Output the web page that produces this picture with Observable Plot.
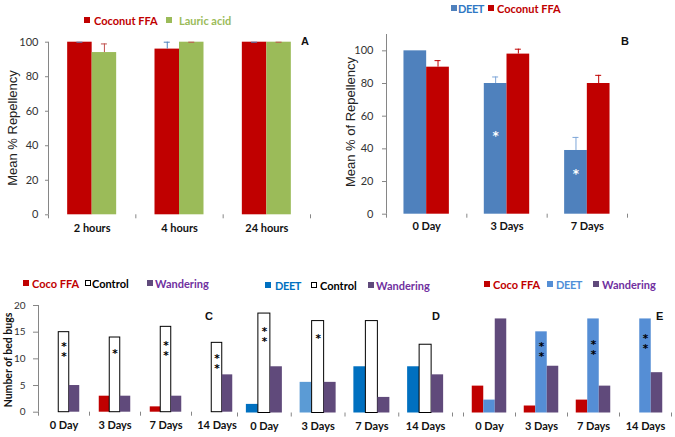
<!DOCTYPE html>
<html><head><meta charset="utf-8">
<script src="https://cdn.jsdelivr.net/npm/d3@7"></script>
<script src="https://cdn.jsdelivr.net/npm/@observablehq/plot@0.6"></script>
<style>
body{margin:0;background:#fff;}
#root{position:relative;width:675px;height:437px;overflow:hidden;background:#fff;font-family:Lato,sans-serif;}
.panel{position:absolute;}
.panel svg{background:transparent;}
.t{position:absolute;white-space:nowrap;transform:translateY(-50%);line-height:1;}
.sq{position:absolute;width:6px;height:6px;transform:translateY(-50%);box-sizing:border-box;}
.yt{position:absolute;white-space:nowrap;line-height:1;transform:translate(-50%,-50%) rotate(-90deg);}
</style></head><body><div id="root"></div>
<script>
// ---------- Panel A ----------
const hoursA = ["2 hours", "4 hours", "24 hours"];
const coconutA = [100, 96, 100];
const coconutAErr = [0, 4, 0];
const lauricA = [94, 100, 100];
const lauricAErr = [5, 0, 0];
const ticksA = [0, 20, 40, 60, 80, 100];

// ---------- Panel B ----------
const daysB = ["0 Day", "3 Days", "7 Days"];
const deetB = [100, 80, 39];
const deetBErr = [null, 4, 8];
const coconutB = [90, 98, 80];
const coconutBErr = [4, 3, 5];
const ticksB = [0, 20, 40, 60, 80, 100];
const starsB = ["", "*", "*"];
const starsBY = [null, 50, 27];

// ---------- Panels C, D, E ----------
const days = ["0 Day", "3 Days", "7 Days", "14 Days"];
const ticksC = [0, 5, 10, 15, 20];

const cocoC = [0, 3, 1, 0];
const controlC = [15, 14, 16, 13];
const wanderC = [5, 3, 3, 7];
const starsC = ["*\n*", "*", "*\n*", "*\n*"];
const starsCY = [12, 11.6, 12.2, 9.8];

const deetD = [1.6, 5.7, 8.6, 8.6];
const controlD = [18.5, 17.1, 17.1, 12.7];
const wanderD = [8.6, 5.7, 2.9, 7.1];
const starsD = ["*\n*", "*", "", ""];
const starsDY = [14.8, 14.4, null, null];

const cocoE = [5.0, 1.3, 2.4, 0];
const deetE = [2.4, 15.1, 17.5, 17.5];
const wanderE = [17.5, 8.7, 5.0, 7.5];
const starsE = ["", "*\n*", "*\n*", "*\n*"];
const starsEY = [null, 12, 12.4, 13.6];

// ---------- colours ----------
const RED = "#C00000", GREEN = "#9BBB59", BLUE = "#4F81BD", PURPLE = "#604A7B",
      DBLUE = "#0070C0", LBLUE = "#5B9BD5", EBLUE = "#558ED5", AX = "#868686";

const root = document.getElementById("root");

function panelPlot(cfg) {
  const {groups, series, width, height, ml, mr, mt, mb, yDomain, yTicks, barW,
         stars, yAxis = true, xPad = 9, yTickSize = 4, yTickPad = 6, yFont = 11,
         baseInsetRight = 0, lastTick = true} = cfg;
  const n = series.length;
  const bw = (width - ml - mr) / groups.length;
  const leftOf = (i) => bw / 2 - n * barW / 2 + i * barW;
  const centerOf = (i) => leftOf(i) + barW / 2 - bw / 2;
  const marks = [];
  series.forEach((s, i) => {
    const data = groups.map((g, k) => ({group: g, value: s.values[k], err: s.err ? s.err[k] : null}));
    const left = leftOf(i);
    marks.push(Plot.barY(data, {
      x: "group", y: "value", fill: s.fill, stroke: s.stroke || null,
      insetLeft: left, insetRight: bw - left - barW
    }));
    if (s.err) {
      const ed = data.filter(d => d.err != null);
      const c = centerOf(i);
      marks.push(Plot.ruleX(ed, {x: "group", y1: "value", y2: d => d.value + d.err, dx: c, stroke: s.errColor}));
      marks.push(Plot.tickY(ed, {x: "group", y: d => d.value + d.err, dx: c,
        insetLeft: bw / 2 - 3, insetRight: bw / 2 - 3, stroke: s.errColor}));
    }
  });
  if (stars) {
    const sd = groups.map((g, k) => ({group: g, text: stars.text[k], y: stars.y[k]})).filter(d => d.text);
    marks.push(Plot.text(sd, {x: "group", y: "y", text: "text", dx: centerOf(stars.series) + (stars.dx || 0),
      dy: stars.dy || 0, fill: stars.fill, fontSize: stars.fontSize, lineHeight: stars.lineHeight || 0.95,
      fontFamily: "DejaVu Sans", fontWeight: "bold"}));
  }
  if (yAxis) {
    marks.push(Plot.axisY(yTicks, {tickSize: yTickSize, tickPadding: yTickPad, stroke: AX, fill: "#333",
      fontSize: yFont, label: null}));
    marks.push(Plot.ruleX([groups[0]], {x: d => d, dx: -bw / 2, y1: yDomain[0], y2: yDomain[1], stroke: AX}));
  }
  marks.push(Plot.axisX({tickSize: 0, tickPadding: xPad, fontWeight: "bold", fontSize: 11, fill: "#111", label: null}));
  marks.push(Plot.ruleY([0], {x1: groups[0], x2: groups[groups.length - 1], insetRight: baseInsetRight, stroke: AX}));
  marks.push(Plot.ruleX(groups, {x: d => d, dx: -bw / 2, y1: 0, y2: 0, insetBottom: -4, stroke: AX}));
  if (lastTick)
    marks.push(Plot.ruleX(groups.slice(-1), {x: d => d, dx: bw / 2, y1: 0, y2: 0, insetBottom: -4, stroke: AX}));
  const yScale = {domain: yDomain, label: null};
  if (!yAxis) yScale.axis = null;
  return Plot.plot({
    width, height, marginLeft: ml, marginRight: mr, marginTop: mt, marginBottom: mb,
    x: {type: "band", domain: groups, padding: 0, round: false, label: null},
    y: yScale,
    style: {fontFamily: "Lato, sans-serif", fontSize: "11px", background: "transparent", overflow: "visible"},
    marks
  });
}

function place(plot, left, top, w, h) {
  const d = document.createElement("div");
  d.className = "panel";
  d.style.left = left + "px"; d.style.top = top + "px";
  d.style.width = w + "px"; d.style.height = h + "px";
  d.appendChild(plot);
  root.appendChild(d);
}
function text(x, y, s, css) {
  const d = document.createElement("div");
  d.className = "t"; d.textContent = s;
  d.style.left = x + "px"; d.style.top = y + "px";
  Object.assign(d.style, css || {});
  root.appendChild(d);
}
function square(x, y, fill, stroke) {
  const d = document.createElement("div");
  d.className = "sq";
  d.style.left = x + "px"; d.style.top = y + "px";
  d.style.background = fill;
  if (stroke) d.style.border = "1px solid " + stroke;
  root.appendChild(d);
}
function ytitle(x, y, s, css) {
  const d = document.createElement("div");
  d.className = "yt"; d.textContent = s;
  d.style.left = x + "px"; d.style.top = y + "px";
  Object.assign(d.style, css || {});
  root.appendChild(d);
}
const legFont = {font: "bold 11px Lato, sans-serif"};

// Panel A
place(panelPlot({
  groups: hoursA, width: 335, height: 245, ml: 48, mr: 25, mt: 41.7, mb: 30.7,
  yDomain: [0, 100], yTicks: ticksA, barW: 24.5, xPad: 9, yTickSize: 3, yTickPad: 7,
  series: [
    {values: coconutA, err: coconutAErr, fill: RED, errColor: BLUE},
    {values: lauricA, err: lauricAErr, fill: GREEN, errColor: "#C0504D"}
  ]
}), 0, 0, 335, 245);

// Panel B
place(panelPlot({
  groups: daysB, width: 340, height: 245, ml: 51, mr: 48, mt: 34, mb: 31.3,
  yDomain: [0, 110], yTicks: ticksB, barW: 22.7, xPad: 8, yTickSize: 4, yTickPad: 9,
  series: [
    {values: deetB, err: deetBErr, fill: BLUE, errColor: "#7EA6D8"},
    {values: coconutB, err: coconutBErr, fill: RED, errColor: RED}
  ],
  stars: {text: starsB, y: starsBY, series: 0, fill: "#fff", fontSize: 12, dy: 4}
}), 335, 0, 340, 245);

// Panel C
place(panelPlot({
  groups: days, width: 242, height: 177, ml: 38, mr: 0, mt: 45, mb: 25.3,
  yDomain: [0, 20], yTicks: ticksC, barW: 10.5, xPad: 9, yTickSize: 5, yTickPad: 8, yFont: 10,
  baseInsetRight: 16, lastTick: false,
  series: [
    {values: cocoC, fill: RED},
    {values: controlC, fill: "#fff", stroke: "#000"},
    {values: wanderC, fill: PURPLE}
  ],
  stars: {text: starsC, y: starsCY, series: 1, fill: "#000", fontSize: 10.5, dy: 3.5}
}), 0, 260, 242, 177);

// Panel D
place(panelPlot({
  groups: days, width: 232, height: 177, ml: 12, mr: 5, mt: 45, mb: 24.5,
  yDomain: [0, 20], yTicks: ticksC, barW: 12, xPad: 9, yAxis: false,
  series: [
    {values: deetD, fill: d => d.group === "3 Days" ? LBLUE : DBLUE},
    {values: controlD, fill: "#fff", stroke: "#000"},
    {values: wanderD, fill: PURPLE}
  ],
  stars: {text: starsD, y: starsDY, series: 1, fill: "#000", fontSize: 10.5, dy: 3.5}
}), 225, 260, 232, 177);

// Panel E
place(panelPlot({
  groups: days, width: 225, height: 177, ml: 13, mr: 4, mt: 45, mb: 24.5,
  yDomain: [0, 20], yTicks: ticksC, barW: 11.5, xPad: 9, yAxis: false,
  series: [
    {values: cocoE, fill: RED},
    {values: deetE, fill: EBLUE},
    {values: wanderE, fill: PURPLE}
  ],
  stars: {text: starsE, y: starsEY, series: 1, fill: "#000", fontSize: 10.5, dy: 3.5}
}), 450, 260, 225, 177);

// Legends
square(84, 20, RED); text(94, 20, "Coconut FFA", {...legFont, color: RED});
square(166, 20, GREEN); text(179, 20, "Lauric acid", {...legFont, color: GREEN});

square(451, 7.5, BLUE); text(458, 7.5, "DEET", {...legFont, color: "#2F78C4", letterSpacing: "-0.4px"});
square(488, 7.5, RED); text(497, 7.5, "Coconut FFA", {...legFont, color: RED});

square(23, 283, RED); text(32, 283, "Coco FFA", {...legFont, color: RED});
square(85, 283, "#fff", "#000"); text(92, 283, "Control", {...legFont, color: "#000"});
square(147, 283, PURPLE); text(155, 283, "Wandering", {...legFont, color: "#7030A0"});

square(265, 285, DBLUE); text(275, 285, "DEET", {...legFont, color: DBLUE, letterSpacing: "-0.4px"});
square(311, 285, "#fff", "#000"); text(320, 285, "Control", {...legFont, color: "#000"});
square(368, 285, PURPLE); text(376, 285, "Wandering", {...legFont, color: "#7030A0"});

square(484, 284, RED); text(493, 284, "Coco FFA", {...legFont, color: RED});
square(547, 284, EBLUE); text(556, 284, "DEET", {...legFont, color: "#4F8FD8", letterSpacing: "-0.4px"});
square(593, 284, PURPLE); text(602, 284, "Wandering", {...legFont, color: "#7030A0"});

// Axis titles
ytitle(12, 128, "Mean % Repellency", {font: "13px 'Liberation Sans', Arial, sans-serif", color: "#222"});
ytitle(350, 122, "Mean % of Repellency", {font: "13px 'Liberation Sans', Arial, sans-serif", color: "#222"});
ytitle(8, 360, "Number of bed bugs", {font: "bold 10.5px Lato, sans-serif", color: "#111"});

// Panel letters
const letFont = {font: "bold 11px 'Liberation Sans', Arial, sans-serif", color: "#111"};
text(301, 41, "A", letFont);
text(621, 40.5, "B", letFont);
text(205, 316, "C", letFont);
text(432, 316, "D", letFont);
text(656, 316, "E", letFont);
</script></body></html>
